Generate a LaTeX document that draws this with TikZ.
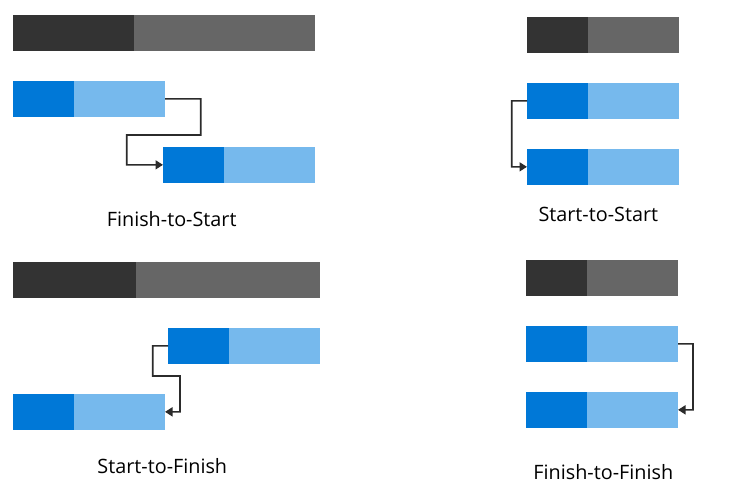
\documentclass[tikz,border=0pt]{standalone}
\usepackage{fontspec}
\setmainfont{Open Sans}
\usetikzlibrary{arrows.meta}
\definecolor{dgray}{HTML}{333333}
\definecolor{mgray}{HTML}{666666}
\definecolor{dblue}{HTML}{0078D7}
\definecolor{lblue}{HTML}{76B9ED}
\definecolor{lnc}{HTML}{2B2B2B}
\tikzset{
  seg/.style={rectangle, inner sep=0pt, outer sep=0pt, anchor=north west, minimum height=35.7pt},
  sdg/.style={seg, fill=dgray},
  smg/.style={seg, fill=mgray},
  sdb/.style={seg, fill=dblue},
  slb/.style={seg, fill=lblue},
  conn/.style={draw=lnc, line width=1.6pt, -{Triangle[length=7.5pt,width=9pt]}},
  lbl/.style={font=\fontsize{19.8}{23}\selectfont, anchor=center}
}
\begin{document}
\begin{tikzpicture}[x=1pt,y=-1pt]
\useasboundingbox (0,0) rectangle (750,500);
% Finish-to-Start
\node[sdg, minimum width=120.7pt] (fsG1) at (13,15) {};
\node[smg, minimum width=181.3pt] (fsG2) at (133.7,15) {};
\node[sdb, minimum width=60.7pt] (fsA1) at (13,81) {};
\node[slb, minimum width=91.3pt] (fsA2) at (73.7,81) {};
\node[sdb, minimum width=60.7pt] (fsB1) at (163,147) {};
\node[slb, minimum width=91.3pt] (fsB2) at (223.7,147) {};
\draw[conn] (fsA2.east) -- (200.7,98.85) -- (200.7,135) -- (126.7,135) |- (fsB1.west);
\node[lbl] (fsL) at (171.7,219.5) {Finish-to-Start};
% Start-to-Start
\node[sdg, minimum width=60.7pt] (ssG1) at (527,17) {};
\node[smg, minimum width=91.3pt] (ssG2) at (587.7,17) {};
\node[sdb, minimum width=60.7pt] (ssA1) at (527,83) {};
\node[slb, minimum width=91.3pt] (ssA2) at (587.7,83) {};
\node[sdb, minimum width=60.7pt] (ssB1) at (527,149) {};
\node[slb, minimum width=91.3pt] (ssB2) at (587.7,149) {};
\draw[conn] (ssA1.west) -- (511.7,100.85) |- (ssB1.west);
\node[lbl] (ssL) at (598.3,214.5) {Start-to-Start};
% Start-to-Finish
\node[sdg, minimum width=122.7pt] (sfG1) at (13,262) {};
\node[smg, minimum width=184.3pt] (sfG2) at (135.7,262) {};
\node[sdb, minimum width=60.7pt] (sfA1) at (168,328) {};
\node[slb, minimum width=91.3pt] (sfA2) at (228.7,328) {};
\node[sdb, minimum width=60.7pt] (sfB1) at (13,394) {};
\node[slb, minimum width=91.3pt] (sfB2) at (73.7,394) {};
\draw[conn] (sfA1.west) -- (152.7,345.85) -- (152.7,376) -- (180,376) |- (sfB2.east);
\node[lbl] (sfL) at (162.3,466.5) {Start-to-Finish};
% Finish-to-Finish
\node[sdg, minimum width=60.7pt] (ffG1) at (526,260) {};
\node[smg, minimum width=91.3pt] (ffG2) at (586.7,260) {};
\node[sdb, minimum width=60.7pt] (ffA1) at (526,326) {};
\node[slb, minimum width=91.3pt] (ffA2) at (586.7,326) {};
\node[sdb, minimum width=60.7pt] (ffB1) at (526,392) {};
\node[slb, minimum width=91.3pt] (ffB2) at (586.7,392) {};
\draw[conn] (ffA2.east) -- (693,343.85) |- (ffB2.east);
\node[lbl] (ffL) at (603.3,472.5) {Finish-to-Finish};
\end{tikzpicture}
\end{document}
